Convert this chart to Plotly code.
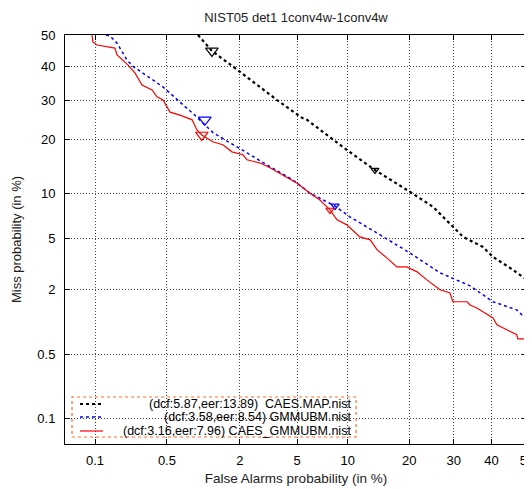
from statistics import NormalDist
import plotly.graph_objects as go

# ---- data (percent) ----
tick_pct = [0.1, 0.5, 2, 5, 10, 20, 30, 40, 50]
tick_labels = ["0.1", "0.5", "2", "5", "10", "20", "30", "40", "50"]

series_names = ["CAES.MAP.nist", "GMMUBM.nist", "CAES_GMMUBM.nist"]
legend_labels = ["(dcf:5.87,eer:13.89)  CAES.MAP.nist",
                 "(dcf:3.58,eer:8.54) GMMUBM.nist",
                 "(dcf:3.16,eer:7.96) CAES_GMMUBM.nist"]

fa_map = [0.93, 1.21, 1.77, 3.69, 5.38, 5.78, 9.41, 13.85, 20.1, 25.1, 32.4, 37.6, 40.4, 45.2, 50.0]
miss_map = [50.0, 44.9, 40.0, 30.0, 25.2, 24.7, 18.3, 13.8, 10.3, 8.28, 5.17, 4.37, 3.67, 3.01, 2.41]

fa_gmm = [0.13, 0.143, 0.168, 0.211, 0.242, 0.46, 0.91, 1.24, 2.26, 3.15, 4.71, 6.03, 8.48, 10.3,
          14.2, 20.1, 26.7, 34.2, 40.4, 47.1, 50.0]
miss_gmm = [50.0, 49.7, 47.4, 42.0, 40.0, 33.8, 25.4, 21.5, 17.1, 14.7, 12.1, 10.1, 8.39, 7.1,
            5.5, 3.94, 2.75, 2.15, 1.57, 1.33, 1.08]

fa_cg = [0.093, 0.095, 0.105, 0.160, 0.168, 0.216, 0.252, 0.294, 0.366, 0.406, 0.461, 0.501, 0.533,
         0.653, 0.75, 0.83, 0.91, 1.0, 1.24, 1.48, 1.74, 2.11, 2.26, 2.81, 3.3, 4.3, 5.0, 6.03,
         6.93, 7.94, 8.71, 9.88, 11.6, 13.1, 14.2, 15.8, 17.6, 19.5, 21.6, 23.7, 26.7, 29.1,
         29.8, 33.4, 34.2, 36.0, 38.2, 40.4, 41.5, 44.3, 47.1, 47.4, 50.0]
miss_cg = [50.0, 47.8, 46.8, 45.8, 43.6, 40.4, 38.0, 34.3, 32.9, 30.9, 30.0, 28.1, 26.7,
           25.9, 25.2, 24.7, 22.2, 21.0, 19.4, 18.8, 17.3, 16.7, 15.7, 15.1, 14.2, 12.6, 11.6, 10.1,
           9.16, 7.91, 6.79, 6.28, 5.17, 4.92, 4.15, 3.61, 3.07, 3.07, 2.8, 2.41, 1.99, 1.87,
           1.57, 1.57, 1.47, 1.38, 1.25, 1.12, 0.97, 0.87, 0.78, 0.71, 0.71]

dcf_fa = [1.21, 1.06, 1.0]
dcf_miss = [44.9, 24.7, 21.0]
eer_fa = [13.85, 8.5, 7.94]
eer_miss = [13.8, 8.4, 7.9]

colors = ["black", "blue", "red"]

nd = NormalDist()


def probit(vals):
    return [nd.inv_cdf(v / 100.0) for v in vals]


fig = go.Figure()
curves = [(fa_map, miss_map, dict(color="black", width=2.2, dash="dot")),
          (fa_gmm, miss_gmm, dict(color="blue", width=1.5, dash="dot")),
          (fa_cg, miss_cg, dict(color="red", width=1.2))]
for i, (fa, ms, ln) in enumerate(curves):
    fig.add_trace(go.Scatter(x=probit(fa), y=probit(ms), mode="lines", line=ln,
                             name=series_names[i], showlegend=False, cliponaxis=True))
    fig.add_trace(go.Scatter(x=probit([dcf_fa[i]]), y=probit([dcf_miss[i]]), mode="markers",
                             marker=dict(symbol="triangle-down-open", size=11, color=colors[i],
                                         line=dict(width=1.2, color=colors[i])),
                             showlegend=False))
    fig.add_trace(go.Scatter(x=probit([eer_fa[i]]), y=probit([eer_miss[i]]), mode="markers",
                             marker=dict(symbol="triangle-down-open", size=7, color=colors[i],
                                         line=dict(width=1.2, color=colors[i])),
                             showlegend=False))

tv = probit(tick_pct)
axis_common = dict(
    tickvals=tv, ticktext=tick_labels, ticks="inside", ticklen=5, tickcolor="black",
    showline=True, linecolor="black", linewidth=1, mirror="allticks",
    showgrid=True, gridcolor="#444", griddash="1px,2px", gridwidth=1,
    zeroline=False, tickfont=dict(size=13, color="black"), automargin=False,
)
fig.update_xaxes(range=[-3.305, 0.0005], title=dict(text="False Alarms probability (in %)",
                 font=dict(size=13.5, color="#222"), standoff=6), ticklabelstandoff=4,
                 **axis_common)
fig.update_yaxes(range=[-3.30, 0.0005], title=dict(text="Miss probability (in %)",
                 font=dict(size=13, color="#222"), standoff=12), ticklabelstandoff=6,
                 **axis_common)

# custom legend box (gnuplot style, right-aligned text)
fig.add_shape(type="rect", xref="paper", yref="paper", x0=0.0152, x1=0.630, y0=0.0171, y1=0.1149,
              line=dict(color="#ff6a2a", width=1.2, dash="dot"), fillcolor="rgba(0,0,0,0)")
row_y = [0.0978, 0.066, 0.0318]
for i in range(3):
    fig.add_shape(type="line", xref="paper", yref="paper", x0=0.0325, x1=0.0823,
                  y0=row_y[i], y1=row_y[i], line=curves[i][2])
    fig.add_annotation(xref="paper", yref="paper", x=0.6234, y=row_y[i], xanchor="right",
                       yanchor="middle", text=legend_labels[i], showarrow=False,
                       font=dict(size=12.5, color="black"))

# page body has an 8px default margin: offset margins so the plot lands where the reference has it
fig.update_layout(
    width=532, height=489,
    margin=dict(l=57, r=13, t=27, b=53),
    paper_bgcolor="white", plot_bgcolor="white",
    font=dict(family="Liberation Sans, Arial, sans-serif", size=13, color="black"),
    title=dict(text="NIST05 det1 1conv4w-1conv4w", x=0.5, xref="paper", xanchor="center",
               y=1 - 9 / 489, yref="container", yanchor="middle",
               font=dict(size=13, color="#222")),
    showlegend=False,
)

fig.write_html("out.html")
